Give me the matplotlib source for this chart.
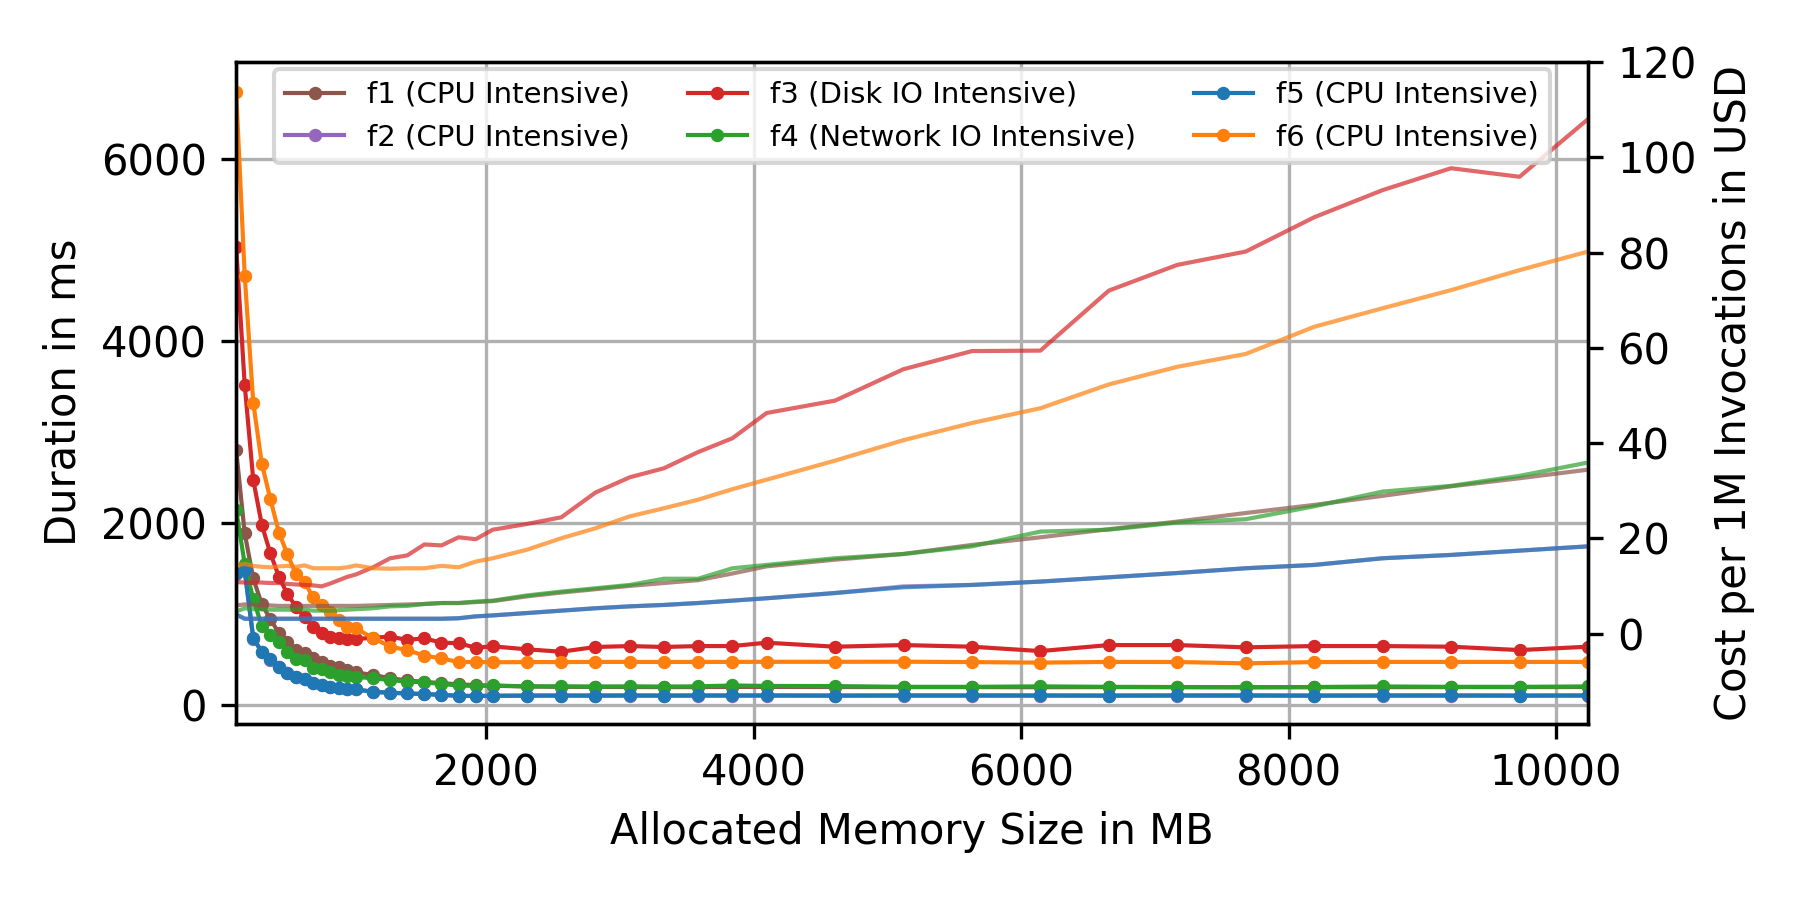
import matplotlib
matplotlib.use("Agg")
import matplotlib.pyplot as plt

memory_mb = [128, 192, 256, 320, 384, 448, 512, 576, 640, 704, 768, 832, 896, 960, 1024,
             1152, 1280, 1408, 1536, 1664, 1792, 1920, 2048,
             2304, 2560, 2816, 3072, 3328, 3584, 3840, 4096,
             4608, 5120, 5632, 6144, 6656, 7168, 7680, 8192, 8704, 9216, 9728, 10240]

labels = ["f1 (CPU Intensive)", "f2 (CPU Intensive)", "f3 (Disk IO Intensive)",
          "f4 (Network IO Intensive)", "f5 (CPU Intensive)", "f6 (CPU Intensive)"]
colors = ["tab:brown", "tab:purple", "tab:red", "tab:green", "tab:blue", "tab:orange"]

# Duration in ms
dur_f1 = [2802, 1886, 1392, 1106, 945, 788, 696, 604, 568, 513, 476, 429, 414, 385, 359,
          330, 295, 270, 255, 240, 228, 218, 212,
          204, 200, 199, 198, 197, 197, 199, 199,
          198, 197, 197, 196, 197, 196, 195, 196, 197, 197, 197, 198]
dur_f2 = [1445, 1475, 730, 584, 500, 420, 347, 310, 281, 237, 219, 200, 182, 171, 171,
          145, 134, 127, 120, 111, 100, 99, 101,
          103, 104, 103, 104, 103, 104, 104, 104,
          103, 104, 104, 104, 103, 104, 104, 103, 104, 104, 103, 104]
dur_f3 = [5036, 3516, 2473, 1978, 1667, 1410, 1216, 1081, 963, 861, 788, 744, 733, 725, 725,
          740, 751, 716, 733, 685, 680, 630, 645,
          612, 586, 638, 648, 638, 648, 648, 685,
          641, 659, 641, 593, 659, 659, 634, 648, 648, 641, 604, 641]
dur_f4 = [2143, 1549, 1165, 868, 769, 696, 586, 502, 495, 403, 392, 366, 330, 319, 311,
          293, 275, 256, 250, 231, 215, 209, 215,
          205, 205, 203, 205, 203, 205, 215, 210,
          208, 200, 200, 205, 200, 198, 196, 198, 204, 200, 200, 204]
dur_f5 = [1450, 1480, 733, 586, 502, 421, 348, 311, 282, 238, 220, 201, 183, 172, 172,
          146, 135, 128, 121, 112, 102, 100, 102,
          104, 104, 104, 105, 104, 105, 105, 105,
          104, 105, 105, 105, 104, 105, 105, 104, 105, 105, 104, 105]
dur_f6 = [6738, 4717, 3320, 2652, 2262, 1895, 1655, 1436, 1350, 1182, 1100, 1020, 934, 853, 842,
          736, 643, 602, 543, 513, 472, 473, 470,
          472, 472, 474, 474, 473, 474, 474, 475,
          475, 476, 472, 466, 474, 473, 458, 472, 474, 474, 474, 474]

# Cost per 1M invocations in USD
cost_f1 = [5.9, 6.1, 6.0, 5.9, 5.9, 5.8, 5.8, 5.8, 5.8, 5.8, 5.8, 5.8, 5.8, 5.8, 5.8,
           5.9, 6.0, 6.1, 6.2, 6.4, 6.4, 6.6, 6.8,
           7.8, 8.6, 9.3, 10.0, 10.6, 11.2, 12.6, 14.1,
           15.5, 16.7, 18.6, 20.2, 21.9, 23.5, 25.3, 27.0, 28.9, 30.9, 32.6, 34.4]
cost_f2 = [4.0, 3.1, 3.1, 3.1, 3.1, 3.1, 3.1, 3.1, 3.1, 3.1, 3.1, 3.1, 3.1, 3.1, 3.1,
           3.1, 3.1, 3.1, 3.1, 3.1, 3.2, 3.6, 3.8,
           4.3, 4.8, 5.3, 5.7, 6.0, 6.4, 6.9, 7.4,
           8.5, 9.9, 10.2, 10.9, 11.8, 12.7, 13.7, 14.4, 15.8, 16.5, 17.4, 18.3]
cost_f3 = [10.8, 10.7, 10.7, 10.7, 10.6, 10.6, 10.4, 10.3, 10.2, 10.1, 9.9, 10.5, 11.2, 11.9, 12.4,
           13.9, 15.8, 16.4, 18.7, 18.5, 20.2, 19.8, 21.8,
           23.0, 24.4, 29.6, 32.8, 34.7, 38.1, 41.0, 46.3,
           48.9, 55.5, 59.3, 59.4, 72.0, 77.4, 80.2, 87.4, 93.1, 97.7, 95.9, 108.0]
cost_f4 = [4.6, 5.3, 5.1, 5.1, 5.0, 5.0, 5.0, 5.0, 5.0, 4.8, 4.8, 4.8, 4.9, 5.0, 5.1,
           5.3, 5.7, 5.8, 6.2, 6.4, 6.4, 6.7, 6.9,
           8.0, 8.8, 9.5, 10.2, 11.5, 11.5, 13.7, 14.4,
           15.8, 16.7, 18.3, 21.4, 21.8, 23.3, 24.0, 26.7, 29.8, 31.0, 33.1, 35.9]
cost_f5 = [4.0, 3.1, 3.1, 3.1, 3.1, 3.1, 3.1, 3.1, 3.1, 3.1, 3.1, 3.1, 3.1, 3.1, 3.1,
           3.1, 3.1, 3.1, 3.1, 3.1, 3.2, 3.6, 3.8,
           4.3, 4.8, 5.3, 5.7, 6.0, 6.4, 6.9, 7.4,
           8.5, 9.7, 10.2, 10.9, 11.8, 12.7, 13.7, 14.4, 15.8, 16.5, 17.4, 18.3]
cost_f6 = [14.3, 14.6, 14.2, 14.0, 13.9, 14.1, 14.2, 14.0, 14.3, 13.7, 13.7, 13.7, 13.7, 13.9, 14.3,
           13.7, 13.6, 13.7, 13.7, 14.2, 13.9, 15.1, 15.8,
           17.6, 20.0, 22.1, 24.6, 26.3, 28.1, 30.3, 32.3,
           36.3, 40.6, 44.2, 47.3, 52.3, 56.0, 58.7, 64.4, 68.3, 72.1, 76.3, 80.2]

durations = [dur_f1, dur_f2, dur_f3, dur_f4, dur_f5, dur_f6]
costs = [cost_f1, cost_f2, cost_f3, cost_f4, cost_f5, cost_f6]

plt.rcParams['font.family'] = ['DejaVu Sans']
fig = plt.figure(figsize=(6, 3), dpi=300)
ax1 = fig.add_axes([0.1312, 0.1961, 0.751, 0.735])
ax2 = ax1.twinx()

handles = []
for lab, col, d in zip(labels, colors, durations):
    h, = ax1.plot(memory_mb, d, color=col, marker='o', markersize=2.2, linewidth=1.0, label=lab)
    handles.append(h)
for col, c in zip(colors, costs):
    ax2.plot(memory_mb, c, color=col, linewidth=1.0, alpha=0.7)

ax1.set_xlim(128, 10240)
ax1.set_ylim(-203, 7066)
ax2.set_ylim(-18.9, 120)
ax1.set_yticks([0, 2000, 4000, 6000])
ax2.set_yticks([0, 20, 40, 60, 80, 100, 120])
ax1.set_xticks([2000, 4000, 6000, 8000, 10000])
ax1.grid(True)
ax1.set_xlabel("Allocated Memory Size in MB")
ax1.set_ylabel("Duration in ms")
ax2.set_ylabel("Cost per 1M Invocations in USD")

ax2.legend(handles=handles, loc='upper center', bbox_to_anchor=(0.5, 1.0), ncol=3,
           fontsize=7, borderaxespad=0.25)

fig.savefig("out.png", dpi=300)
